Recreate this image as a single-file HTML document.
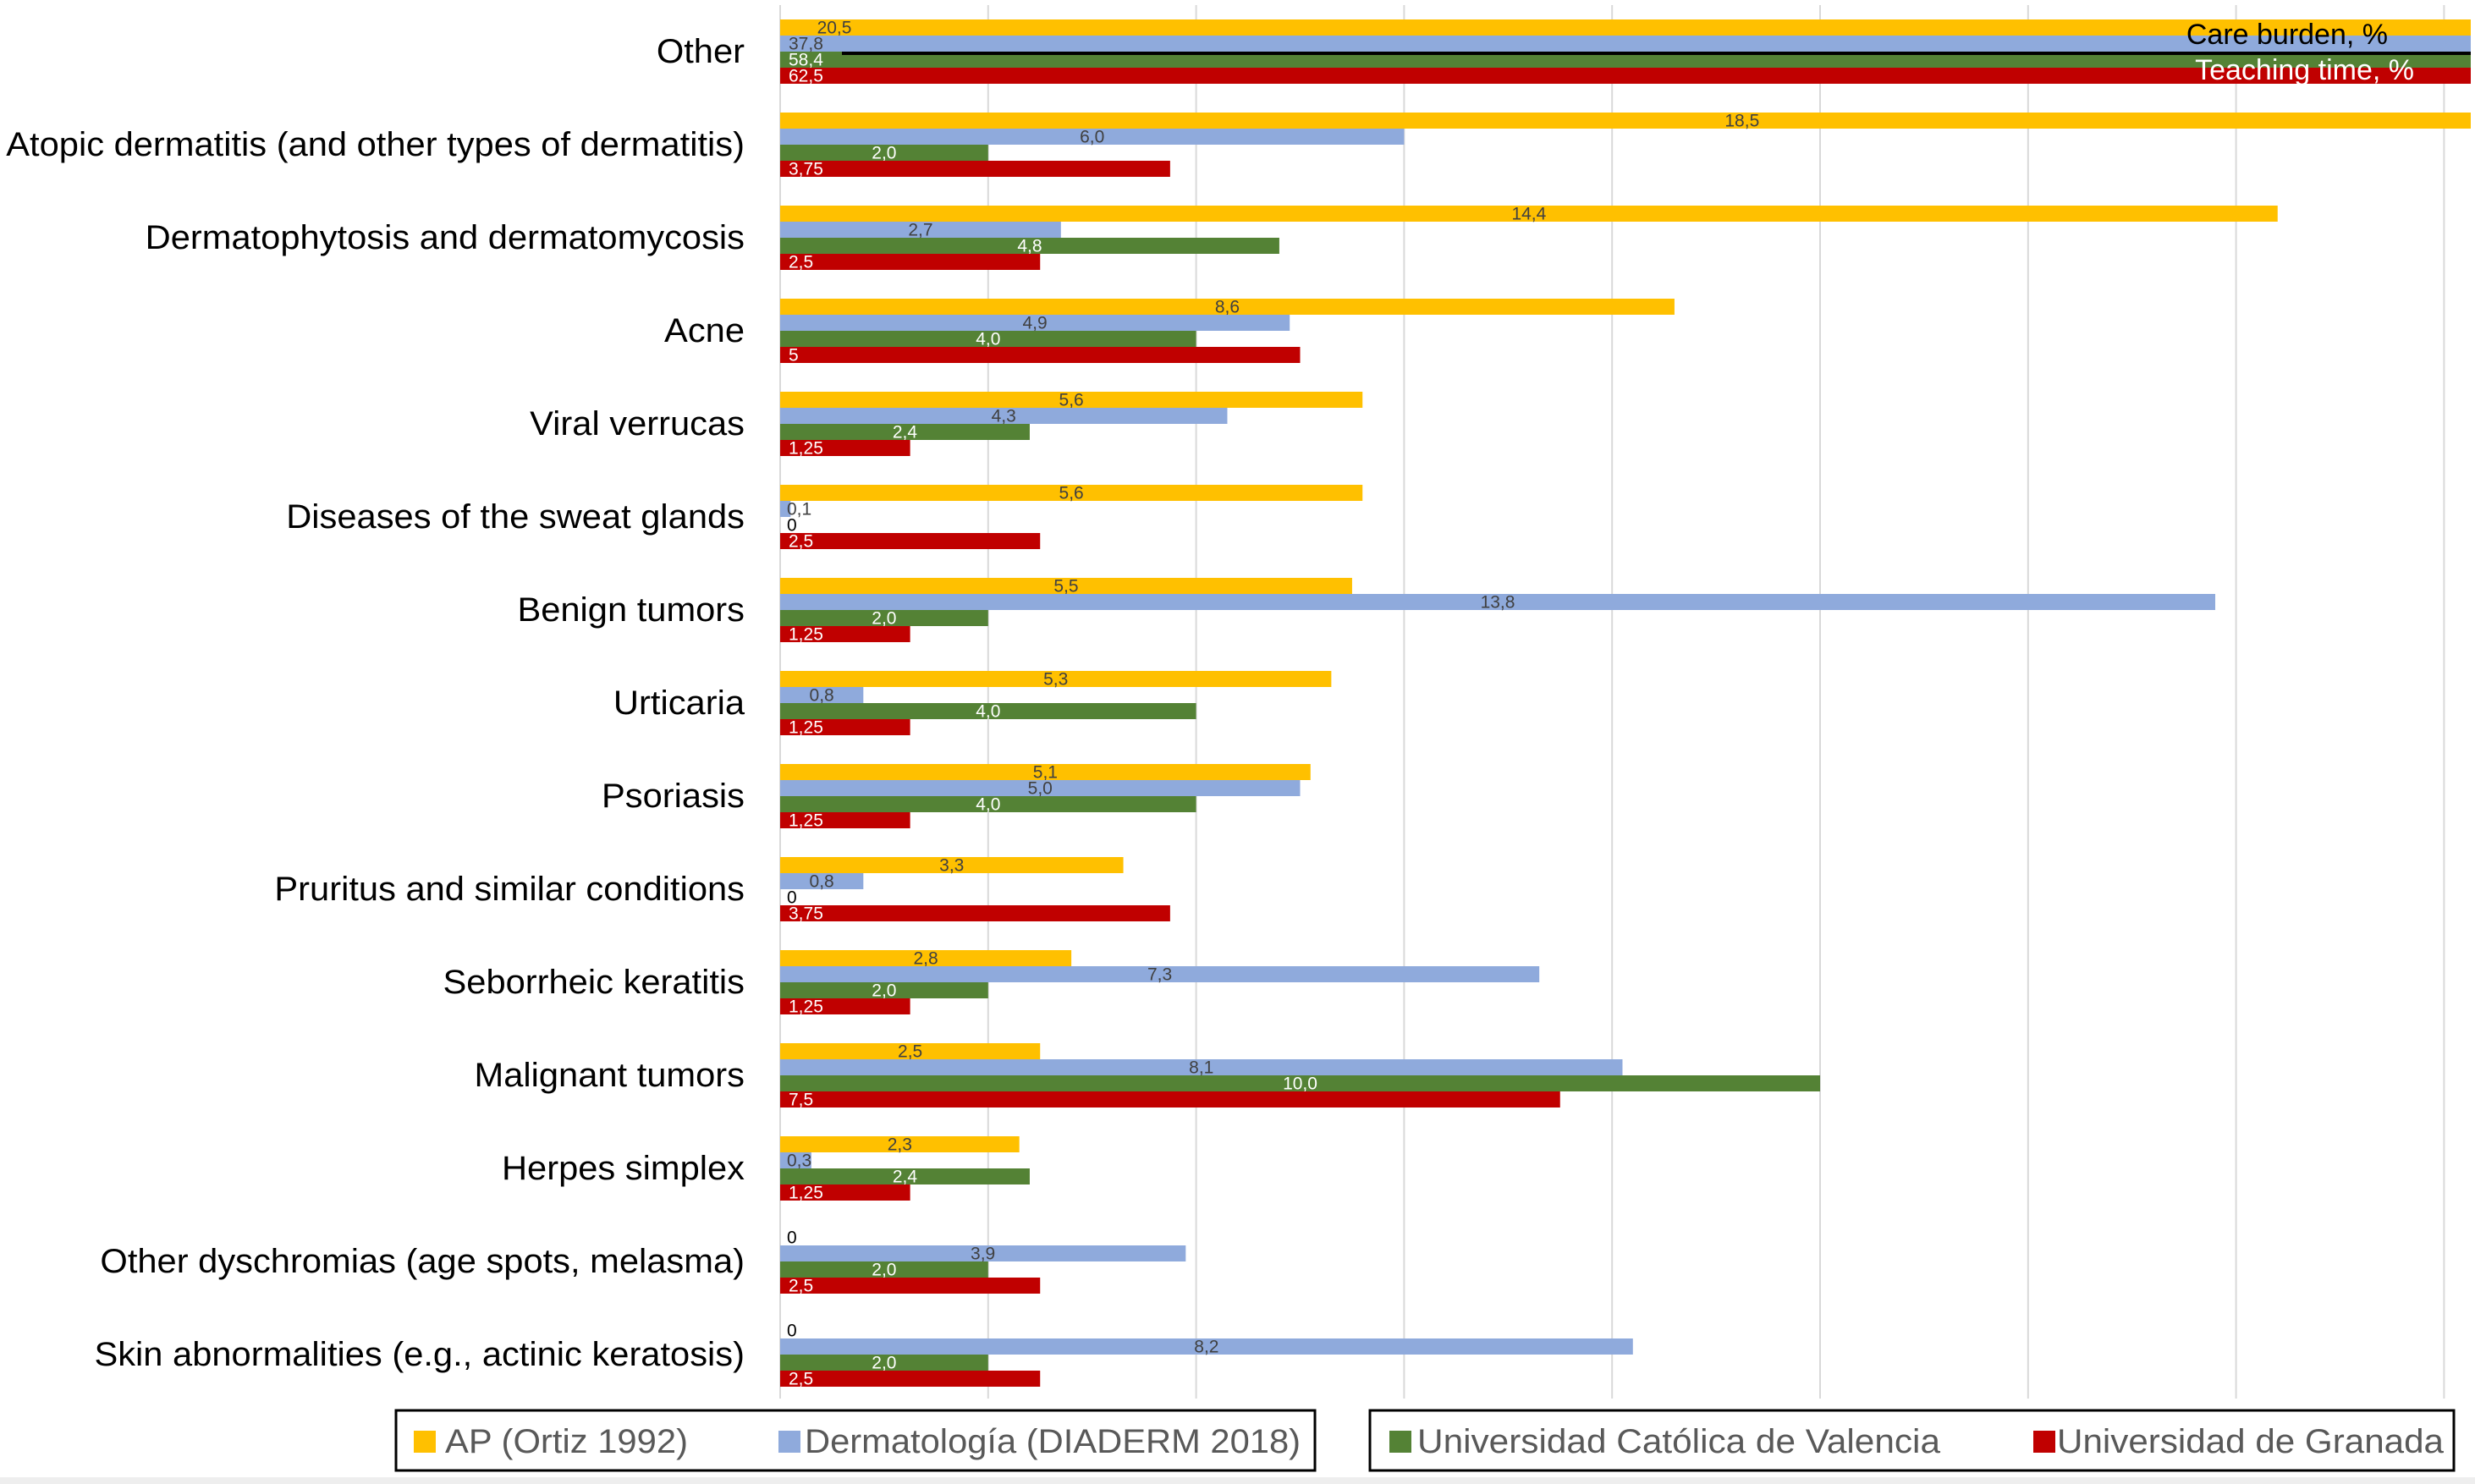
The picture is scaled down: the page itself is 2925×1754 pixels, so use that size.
<!DOCTYPE html>
<html><head><meta charset="utf-8"><style>
html,body{margin:0;padding:0;background:#fff;}
svg{display:block;}
</style></head><body>
<svg id="chart" width="2925" height="1754" viewBox="0 0 2925 1754" xmlns="http://www.w3.org/2000/svg" font-family="'Liberation Sans', sans-serif">
<g id="grid"></g>
<g id="bars"></g>
<g id="cats"></g>
<g id="legend"></g>
</svg>
<script>
const categories = ["Other","Atopic dermatitis (and other types of dermatitis)","Dermatophytosis and dermatomycosis","Acne","Viral verrucas","Diseases of the sweat glands","Benign tumors","Urticaria","Psoriasis","Pruritus and similar conditions","Seborrheic keratitis","Malignant tumors","Herpes simplex","Other dyschromias (age spots, melasma)","Skin abnormalities (e.g., actinic keratosis)"];
const apValues = [20.5,18.5,14.4,8.6,5.6,5.6,5.5,5.3,5.1,3.3,2.8,2.5,2.3,0,0];
const dermValues = [37.8,6.0,2.7,4.9,4.3,0.1,13.8,0.8,5.0,0.8,7.3,8.1,0.3,3.9,8.2];
const ucvValues = [58.4,2.0,4.8,4.0,2.4,0,2.0,4.0,4.0,0,2.0,10.0,2.4,2.0,2.0];
const ugrValues = [62.5,3.75,2.5,5,1.25,2.5,1.25,1.25,1.25,3.75,1.25,7.5,1.25,2.5,2.5];
const apLabels = ["20,5","18,5","14,4","8,6","5,6","5,6","5,5","5,3","5,1","3,3","2,8","2,5","2,3","0","0"];
const dermLabels = ["37,8","6,0","2,7","4,9","4,3","0,1","13,8","0,8","5,0","0,8","7,3","8,1","0,3","3,9","8,2"];
const ucvLabels = ["58,4","2,0","4,8","4,0","2,4","0","2,0","4,0","4,0","0","2,0","10,0","2,4","2,0","2,0"];
const ugrLabels = ["62,5","3,75","2,5","5","1,25","2,5","1,25","1,25","1,25","3,75","1,25","7,5","1,25","2,5","2,5"];
const xTicks = [0,2,4,6,8,10,12,14,16];
const seriesNames = ["AP (Ortiz 1992)","Dermatología (DIADERM 2018)","Universidad Católica de Valencia","Universidad de Granada"];

const NS="http://www.w3.org/2000/svg";
const X0=922, UNIT=122.9, XMAX=2920;
const x = v => X0 + v*UNIT;
const GROUP_TOP=23, GROUP_STEP=110, BAR_H=19;
const y = i => GROUP_TOP + i*GROUP_STEP;
function mk(tag, attrs, parent){const e=document.createElementNS(NS,tag);for(const k in attrs)e.setAttribute(k,attrs[k]);parent.appendChild(e);return e;}

const grid=document.getElementById('grid');
xTicks.forEach(t=>{
  const l=mk('line',{x1:x(t),x2:x(t),y1:6,y2:1653,stroke:'#d9d9d9','stroke-width':2},grid);
  
  
});

const series=[
 {vals:apValues,labels:apLabels,color:'#ffc000',tc:'#404040',key:'ap'},
 {vals:dermValues,labels:dermLabels,color:'#8faadc',tc:'#404040',key:'diaderm'},
 {vals:ucvValues,labels:ucvLabels,color:'#548235',tc:'#ffffff',key:'ucv'},
 {vals:ugrValues,labels:ugrLabels,color:'#c00000',tc:'#ffffff',key:'ugr'}
];
const bars=document.getElementById('bars');
categories.forEach((c,i)=>{
  series.forEach((s,j)=>{
    const v=s.vals[i];
    const by=y(i)+j*BAR_H;
    const xe=Math.min(x(v),XMAX);
    if(v>0){
      const r=mk('rect',{x:X0,y:by,width:xe-X0,height:BAR_H,fill:s.color},bars);
      
      
    }
    let lx, anchor='middle', col=s.tc;
    if(i===0){ lx = j===0 ? 986 : X0+10; anchor = j===0?'middle':'start'; }
    else if(v===0){ lx=X0+8; anchor='start'; col='#000'; }
    else if(j===3){ lx=X0+10; anchor='start'; }
    else { lx=X0+v*UNIT/2; if(v*UNIT<40){lx=X0+8;anchor='start';} }
    const t=mk('text',{x:lx,y:by+BAR_H/2+7,'text-anchor':anchor,'font-size':21,fill:col},bars);
    t.textContent=s.labels[i];
    
    
  });
});
const sep=mk('rect',{x:995,y:61,width:XMAX-995,height:4,fill:'#000'},bars);


const cb=mk('text',{x:2822,y:52,'text-anchor':'end','font-size':34,fill:'#000'},bars);
cb.textContent='Care burden, %';


const tt=mk('text',{x:2853,y:94,'text-anchor':'end','font-size':34,fill:'#fff'},bars);
tt.textContent='Teaching time, %';



const cats=document.getElementById('cats');
const catEls=[];
categories.forEach((c,i)=>{
  const t=mk('text',{x:0,y:0,'text-anchor':'end','font-size':40,fill:'#000'},cats);
  t.textContent=c;
  
  
  catEls.push(t);
});
const refW=catEls[1].getComputedTextLength()||960;
const sx=873/refW;
catEls.forEach((t,i)=>{
  t.setAttribute('transform','translate(880,'+(y(i)+38+13)+') scale('+sx+',1)');
});

const legend=document.getElementById('legend');
const b1=mk('rect',{x:468,y:1667,width:1086,height:71,fill:'#fff',stroke:'#000','stroke-width':3},legend);


const b2=mk('rect',{x:1619,y:1667,width:1281,height:71,fill:'#fff',stroke:'#000','stroke-width':3},legend);


const bl=mk('rect',{x:0,y:1746,width:2925,height:8,fill:'#eeeeee'},legend);


const legSq=[489,920,1642,2403], legTx=[526,951,1675,2431], legW=[287,586,618,457];
series.forEach((s,j)=>{
  const g=mk('g',{},legend);
  
  
  mk('rect',{x:legSq[j],y:1691,width:26,height:26,fill:s.color},g);
  const t=mk('text',{x:legTx[j],y:1717,'font-size':40,fill:'#595959',textLength:legW[j],lengthAdjust:'spacingAndGlyphs'},g);
  t.textContent=seriesNames[j];
});
</script>
</body></html>
